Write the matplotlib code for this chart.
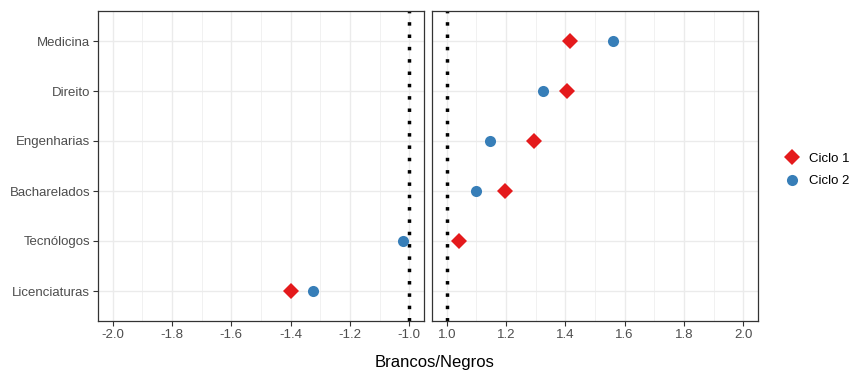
import matplotlib.pyplot as plt
from matplotlib.lines import Line2D
from matplotlib.ticker import MultipleLocator

plt.rcParams['font.family'] = ['Liberation Sans', 'DejaVu Sans']

# categorias (de baixo para cima)
cursos = ['Licenciaturas', 'Tecnólogos', 'Bacharelados', 'Engenharias', 'Direito', 'Medicina']
ciclo1 = [-1.40, 1.04, 1.195, 1.295, 1.405, 1.415]
ciclo2 = [-1.325, -1.02, 1.10, 1.145, 1.325, 1.56]
ticks_neg = [-2.0, -1.8, -1.6, -1.4, -1.2, -1.0]
ticks_pos = [1.0, 1.2, 1.4, 1.6, 1.8, 2.0]

red = '#E41A1C'
blue = '#377EB8'
W, H = 852, 371
fig = plt.figure(figsize=(W / 100, H / 100), dpi=100)

ax_l = fig.add_axes([98 / W, 50 / H, 326 / W, 310 / H])
ax_r = fig.add_axes([432 / W, 50 / H, 326 / W, 310 / H])

ypos = list(range(len(cursos)))
for ax, lims, ticks, sign in [(ax_l, (-2.05, -0.95), ticks_neg, -1),
                               (ax_r, (0.95, 2.05), ticks_pos, 1)]:
    ax.set_xlim(*lims)
    ax.set_ylim(-0.6, len(cursos) - 0.4)
    ax.set_xticks(ticks)
    ax.set_xticklabels(['%.1f' % t for t in ticks])
    ax.xaxis.set_minor_locator(MultipleLocator(0.1))
    ax.set_yticks(ypos)
    ax.grid(True, which='major', color='#EBEBEB', lw=1.0, zorder=0)
    ax.grid(True, which='minor', axis='x', color='#EBEBEB', lw=0.5, zorder=0)
    ax.set_axisbelow(True)
    ax.tick_params(which='minor', length=0)
    ax.tick_params(which='major', length=3.5, width=0.8, color='#333333',
                   labelcolor='#4D4D4D', labelsize=9.5, pad=2)
    for s in ax.spines.values():
        s.set_color('#333333')
        s.set_linewidth(0.9)
    # linha de referencia em +-1
    ax.axvline(sign * 1.0, color='black', lw=2.5, dashes=(1, 2.55), dash_capstyle='butt', zorder=2)
    ax.plot(ciclo1, ypos, 'D', color=red, ms=8.5, mew=0, zorder=3)
    ax.plot(ciclo2, ypos, 'o', color=blue, ms=8, mew=0, zorder=3)

ax_l.set_yticklabels(cursos)
ax_r.set_yticklabels([])
ax_r.tick_params(axis='y', length=0)

fig.text(435 / W, 1 - 363 / H, 'Brancos/Negros', ha='center', va='center', fontsize=12)

handles = [Line2D([], [], marker='D', ls='', color=red, ms=8.5, mew=0),
           Line2D([], [], marker='o', ls='', color=blue, ms=8, mew=0)]
fig.legend(handles, ['Ciclo 1', 'Ciclo 2'], loc='center left',
           bbox_to_anchor=(785 / W, 1 - 170 / H), frameon=False, fontsize=9.5,
           borderpad=0, borderaxespad=0, handlelength=1.0, handletextpad=0.8,
           labelspacing=0.75)

fig.savefig('out.png', dpi=100)
